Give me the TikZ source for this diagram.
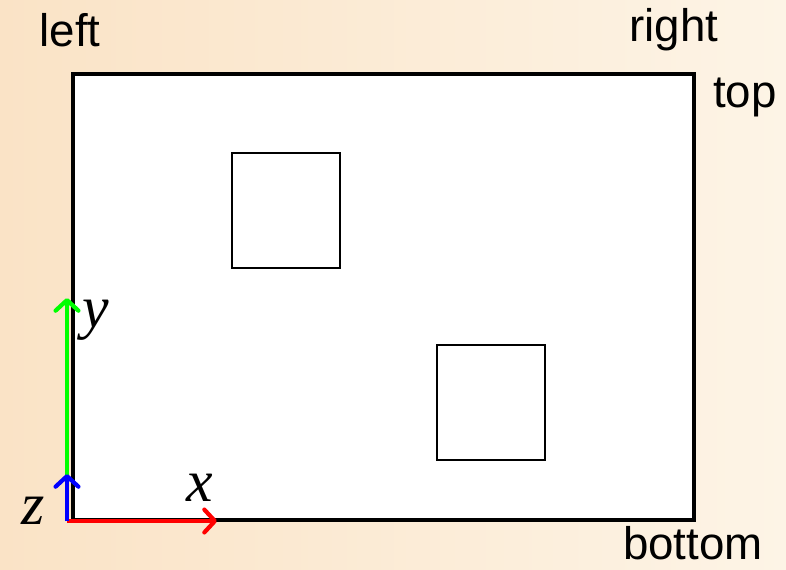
\documentclass[tikz,border=0pt]{standalone}
\usepackage{fontspec}
\setmainfont{Liberation Sans}
\newfontfamily\axisfont{Liberation Serif}
\usetikzlibrary{positioning,arrows.meta}
\definecolor{bgleft}{RGB}{250,227,198}
\definecolor{bgright}{RGB}{253,244,230}
\definecolor{xaxiscolor}{RGB}{255,0,0}
\definecolor{yaxiscolor}{RGB}{0,255,0}
\definecolor{zaxiscolor}{RGB}{0,0,255}

\begin{document}
\begin{tikzpicture}[
    x=0.02cm, y=-0.02cm,
    side/.style={font=\fontsize{26}{28}\selectfont, inner sep=0pt},
    axislabel/.style={font=\axisfont\itshape\fontsize{34}{36}\selectfont, inner sep=0pt},
    axisarrow/.style={line width=2.4pt, -{Straight Barb[round,length=6pt,width=13pt]}}
]

% Background (pixel grid 786 x 569, y downwards)
\shade[left color=bgleft, right color=bgright] (0,0) rectangle (786,569);
\useasboundingbox (0,0) rectangle (786,569);

% Screen window
\draw[line width=2.3pt, fill=white] (73,74) rectangle (694,520);

% Two squares
\draw[line width=1.2pt] (232,153) rectangle (340,268);
\draw[line width=1.2pt] (437,345) rectangle (545,460);

% Side labels
\node[side] (lft) at (70,30) {left};
\node[side] (rgt) at (674,30) {right};
\node[side] (tp) at (745,97) {top};
\node[side] (btm) at (693,543) {bottom};

% Axes
\coordinate (o) at (67,521);
\coordinate (xend) at (217,521);
\coordinate (yend) at (67,298);
\coordinate (zend) at (67,474);
\draw[axisarrow, yaxiscolor] (o) -- (yend);
\draw[axisarrow, xaxiscolor] (o) -- (xend);
\draw[axisarrow, zaxiscolor] (o) -- (zend);

\node[axislabel] (xl) at (200,488) {x};
\node[axislabel] (yl) at (96,320) {y};
\node[axislabel] (zl) at (33,511) {z};

\end{tikzpicture}
\end{document}
